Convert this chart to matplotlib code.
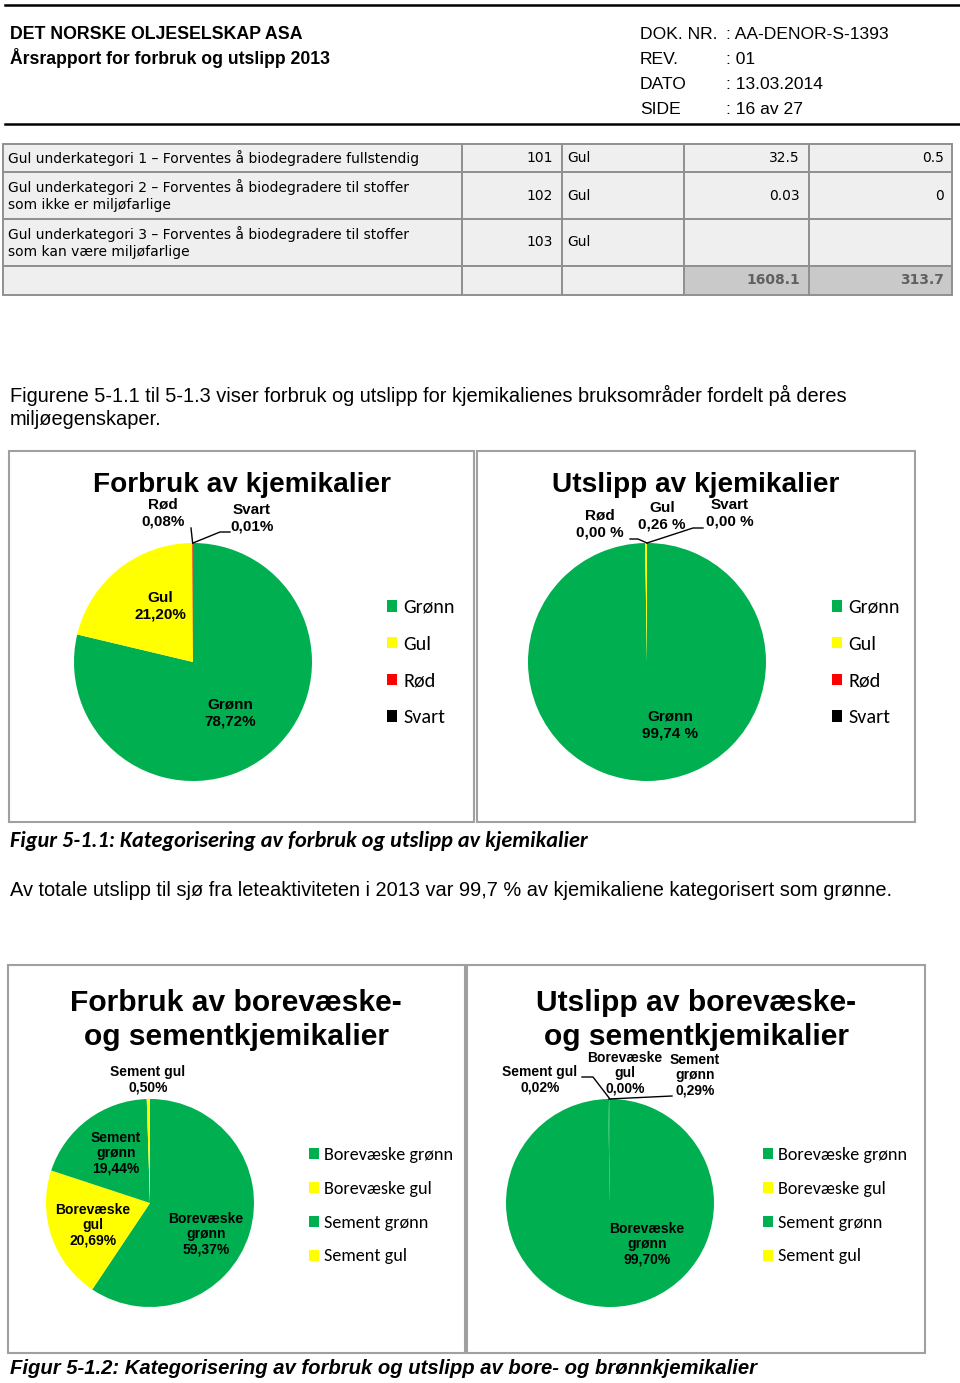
import numpy as np
import matplotlib
matplotlib.use('Agg')
import matplotlib.pyplot as plt
import matplotlib.font_manager as fm
from matplotlib.patches import Rectangle
from matplotlib.lines import Line2D

# --- data -------------------------------------------------------------
table_rows = [
    ('Gul underkategori 1 – Forventes å biodegradere fullstendig', '101', 'Gul', '32.5', '0.5'),
    ('Gul underkategori 2 – Forventes å biodegradere til stoffer\nsom ikke er miljøfarlige', '102', 'Gul', '0.03', '0'),
    ('Gul underkategori 3 – Forventes å biodegradere til stoffer\nsom kan være miljøfarlige', '103', 'Gul', '', ''),
]
table_totals = ('1608.1', '313.7')

kjem_labels = ['Grønn', 'Gul', 'Rød', 'Svart']
kjem_forbruk = [78.72, 21.20, 0.08, 0.01]
kjem_utslipp = [99.74, 0.26, 0.00, 0.00]
kjem_colors = ['#00B050', '#FFFF00', '#FF0000', '#000000']

bore_labels = ['Borevæske grønn', 'Borevæske gul', 'Sement grønn', 'Sement gul']
bore_pie_names = ['Borevæske\ngrønn', 'Borevæske\ngul', 'Sement\ngrønn', 'Sement gul']
bore_forbruk = [59.37, 20.69, 19.44, 0.50]
bore_utslipp = [99.70, 0.00, 0.29, 0.02]
bore_colors = ['#00B050', '#FFFF00', '#00B050', '#FFFF00']

# --- page setup --------------------------------------------------------
W, H = 960, 1383
fig = plt.figure(figsize=(W / 100, H / 100), dpi=100)

avail = {f.name for f in fm.fontManager.ttflist}
ARIAL = 'Liberation Sans' if 'Liberation Sans' in avail else 'DejaVu Sans'
CALIBRI = next((f for f in ['Carlito', 'Lato', 'Open Sans'] if f in avail), 'DejaVu Sans')


def fx(x):
    return x / W


def fy(y):
    return 1 - y / H


def text(x, y, s, **kw):
    kw.setdefault('family', ARIAL)
    kw.setdefault('va', 'baseline')
    fig.text(fx(x), fy(y), s, **kw)


def hline(x0, x1, y, lw=1.5, color='black'):
    fig.add_artist(Line2D([fx(x0), fx(x1)], [fy(y), fy(y)], lw=lw, color=color))


def box(x0, y0, x1, y1, fc='none', ec='#a0a0a0', lw=1.5):
    fig.add_artist(Rectangle((fx(x0), fy(y1)), (x1 - x0) / W, (y1 - y0) / H,
                             facecolor=fc, edgecolor=ec, lw=lw, transform=fig.transFigure))


# header
hline(5, 960, 5, lw=1.8)
hline(5, 960, 124, lw=1.8)
text(10, 39, 'DET NORSKE OLJESELSKAP ASA', fontsize=12.8, weight='bold')
text(10, 64, 'Årsrapport for forbruk og utslipp 2013', fontsize=12.7, weight='bold')
for y, lab, val in [(39, 'DOK. NR.', ': AA-DENOR-S-1393'), (64, 'REV.', ': 01'),
                    (89, 'DATO', ': 13.03.2014'), (114, 'SIDE', ': 16 av 27')]:
    text(640, y, lab, fontsize=12.6)
    text(726, y, val, fontsize=12.6)

# table
col_x = [3, 462, 562, 684, 809, 952]
row_y = [144, 172, 219, 266, 295]
for r in range(4):
    for c in range(5):
        fc = '#c9c9c9' if (r == 3 and c >= 3) else '#efefef'
        box(col_x[c], row_y[r], col_x[c + 1], row_y[r + 1], fc=fc, ec='#909090', lw=1.4)
for r, row in enumerate(table_rows):
    yc = (row_y[r] + row_y[r + 1]) / 2
    kw = dict(family='DejaVu Sans', fontsize=10, va='center')
    text(8, yc, row[0], linespacing=1.2, **kw)
    text(553, yc, row[1], ha='right', **kw)
    text(567, yc, row[2], **kw)
    text(800, yc, row[3], ha='right', **kw)
    text(944, yc, row[4], ha='right', **kw)
yc = (row_y[3] + row_y[4]) / 2
for x, val in zip([800, 944], table_totals):
    text(x, yc, val, family='DejaVu Sans', fontsize=10, va='center',
         ha='right', weight='bold', color='#606060')

# body text
text(10, 402, 'Figurene 5-1.1 til 5-1.3 viser forbruk og utslipp for kjemikalienes bruksområder fordelt på deres',
     fontsize=14.4)
text(10, 425, 'miljøegenskaper.', fontsize=14.4)
text(10, 847, 'Figur 5-1.1: Kategorisering av forbruk og utslipp av kjemikalier', family=CALIBRI,
     fontsize=16, weight='bold', style='italic')
text(10, 896, 'Av totale utslipp til sjø fra leteaktiviteten i 2013 var 99,7 % av kjemikaliene kategorisert som grønne.',
     fontsize=14.4)
text(10, 1374, 'Figur 5-1.2: Kategorisering av forbruk og utslipp av bore- og brønnkjemikalier',
     fontsize=14.6, weight='bold', style='italic')

# chart frames
box(9, 451, 474, 822)
box(477, 451, 915, 822)
box(8, 965, 465, 1353)
box(467, 965, 925, 1353)


def fmt(v, space=''):
    return f'{v:.2f}'.replace('.', ',') + space + '%'


def draw_pie(cx, cy, r, values, colors, names, label_pos, leaders, fsize, space='',
             linespacing=1.2):
    k = 1.7
    ax = fig.add_axes([fx(cx - k * r), fy(cy + k * r), 2 * k * r / W, 2 * k * r / H])
    wedges, _ = ax.pie(values, colors=colors, startangle=90, counterclock=False,
                       wedgeprops=dict(linewidth=0))
    ax.set_xlim(-k, k)
    ax.set_ylim(-k, k)
    ax.axis('off')
    for name, v, (px, py) in zip(names, values, label_pos):
        ax.text((px - cx) / r, (cy - py) / r, name + '\n' + fmt(v, space), ha='center', va='center',
                family=ARIAL, weight='bold', fontsize=fsize, linespacing=linespacing)
    for i, pts in leaders.items():
        w = wedges[i]
        ang = np.deg2rad((w.theta1 + w.theta2) / 2)
        xs = [np.cos(ang)] + [(px - cx) / r for px, _ in pts]
        ys = [np.sin(ang)] + [(cy - py) / r for _, py in pts]
        ax.plot(xs, ys, color='black', lw=1)
    return ax, wedges


def legend(ax, wedges, labels, x, y, fsize, spacing, hsize):
    ax.legend(wedges, labels, loc='upper left', bbox_to_anchor=(fx(x), fy(y)),
              bbox_transform=fig.transFigure, frameon=False,
              prop=dict(family=CALIBRI, size=fsize), handlelength=hsize, handleheight=hsize,
              handletextpad=0.3, labelspacing=spacing, borderpad=0, borderaxespad=0)


# Figur 5-1.1
text(242, 492, 'Forbruk av kjemikalier', fontsize=20.2, weight='bold', ha='center')
ax, w = draw_pie(193, 662, 119, kjem_forbruk, kjem_colors, kjem_labels,
                 [(230, 713), (160, 606), (163, 513), (252, 518)],
                 {2: [(191, 528)], 3: [(220, 532), (230, 532)]}, 11)
legend(ax, w, kjem_labels, 387, 599, 14.5, 0.98, 0.5)

text(696, 492, 'Utslipp av kjemikalier', fontsize=20.2, weight='bold', ha='center')
ax, w = draw_pie(647, 662, 119, kjem_utslipp, kjem_colors, kjem_labels,
                 [(670, 725), (662, 516), (600, 524), (730, 513)],
                 {2: [(638, 539), (630, 539)], 3: [(693, 528), (703, 528)]}, 11, space=' ')
legend(ax, w, kjem_labels, 832, 599, 14.5, 0.98, 0.5)

# Figur 5-1.2
text(236, 1011, 'Forbruk av borevæske-', fontsize=21.6, weight='bold', ha='center')
text(236, 1045, 'og sementkjemikalier', fontsize=21.6, weight='bold', ha='center')
ax, w = draw_pie(150, 1203, 104, bore_forbruk, bore_colors, bore_pie_names,
                 [(206, 1234), (93, 1225), (116, 1153), (148, 1080)],
                 {}, 10, linespacing=1.1)
legend(ax, w, bore_labels, 309, 1147, 13.1, 0.98, 0.55)

text(696, 1011, 'Utslipp av borevæske-', fontsize=21.6, weight='bold', ha='center')
text(696, 1045, 'og sementkjemikalier', fontsize=21.6, weight='bold', ha='center')
ax, w = draw_pie(610, 1203, 104, bore_utslipp, bore_colors, bore_pie_names,
                 [(647, 1244), (625, 1073), (695, 1075), (540, 1080)],
                 {3: [(593, 1077), (582, 1077)], 2: [(672, 1096)]}, 10, linespacing=1.1)
legend(ax, w, bore_labels, 763, 1147, 13.1, 0.98, 0.55)

fig.savefig('out.png', dpi=100)
